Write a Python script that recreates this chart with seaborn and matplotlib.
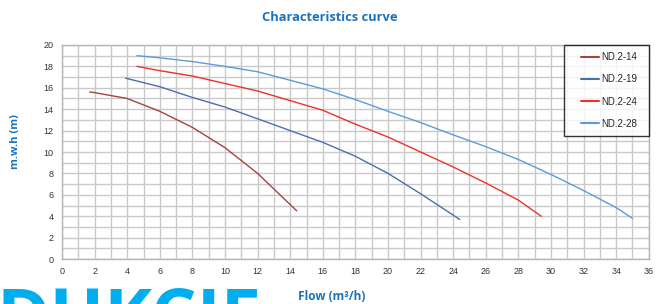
import pandas as pd
import matplotlib
matplotlib.use("Agg")
import matplotlib.pyplot as plt
from matplotlib.legend_handler import HandlerLine2D
from matplotlib.lines import Line2D
import seaborn as sns

# ---------------------------------------------------------
# DATA
# ---------------------------------------------------------

flow_14 = [1.7, 2, 4, 6, 8, 10, 12, 14.4]
head_14 = [15.6, 15.55, 15.0, 13.8, 12.3, 10.4, 8.0, 4.5]

flow_19 = [3.9, 6, 8, 10, 12, 14, 16, 18, 20, 22, 24.4]
head_19 = [16.9, 16.1, 15.1, 14.2, 13.1, 12.0, 10.9, 9.6, 8.0, 6.1, 3.7]

flow_24 = [4.6, 6, 8, 10, 12, 14, 16, 18, 20, 22, 24, 26, 28, 29.4]
head_24 = [18.0, 17.6, 17.1, 16.4, 15.7, 14.8, 13.9, 12.6, 11.4, 10.0, 8.6, 7.1, 5.5, 4.0]

flow_28 = [4.6, 6, 8, 10, 12, 14, 16, 18, 20, 22, 24, 26, 28, 30, 32, 34, 35]
head_28 = [19.0, 18.8, 18.45, 18.0, 17.5, 16.7, 15.9, 14.9, 13.8, 12.75, 11.6, 10.5, 9.3, 7.9, 6.4, 4.8, 3.8]

models = ["ND.2-14", "ND.2-19", "ND.2-24", "ND.2-28"]
colors = ["#a5433f", "#4a70a8", "#f0302a", "#5f9ad8"]

frames = []
for name, f, h in zip(models,
                      [flow_14, flow_19, flow_24, flow_28],
                      [head_14, head_19, head_24, head_28]):
    frames.append(pd.DataFrame({"flow": f, "head": h, "model": name}))
df = pd.concat(frames, ignore_index=True)

# ---------------------------------------------------------
# PLOT
# ---------------------------------------------------------

sns.set_style("white")
plt.rcParams["font.family"] = ["Liberation Sans", "DejaVu Sans"]

fig = plt.figure(figsize=(6.6, 3.04), dpi=100)
ax = fig.add_axes([0.094, 0.148, 0.889, 0.704])

sns.lineplot(
    data=df, x="flow", y="head", hue="model",
    palette=dict(zip(models, colors)),
    sort=False, linewidth=1.0, ax=ax, zorder=3
)

ax.set_xlim(0, 36)
ax.set_ylim(0, 20)
ax.set_xticks(range(0, 37, 2))
ax.set_yticks(range(0, 21, 2))
ax.set_xticks(range(0, 37, 1), minor=True)
ax.set_yticks(range(0, 21, 1), minor=True)
ax.grid(True, which="both", color="#c9c9c9", linewidth=1.0)
ax.tick_params(which="both", length=0, labelsize=6.5, colors="#333333", pad=6)
for s in ax.spines.values():
    s.set_color("#b5b5b5")
    s.set_linewidth(1.0)
ax.set_xlabel("")
ax.set_ylabel("")

# legend: box about 85 px wide, flush with top right corner
leg_w = 85 / 587
leg = ax.legend(
    loc="upper right", fontsize=7, frameon=True, fancybox=False,
    edgecolor="black", labelspacing=1.25, handlelength=2.9,
    handletextpad=0.15, borderpad=0.75, borderaxespad=0,
    bbox_to_anchor=(1.0 - leg_w, 0.0, leg_w, 1.0), mode="expand",
    handler_map={Line2D: HandlerLine2D(xpad=1.05)}
)
leg.get_frame().set_linewidth(1.0)
leg.set_zorder(5)
for line in leg.get_lines():
    line.set_linewidth(1.5)

title_blue = "#1b72b8"
fig.text(0.5, 0.944, "Characteristics curve", ha="center", va="center",
         fontsize=9.3, fontweight="bold", color=title_blue, family="Open Sans")
fig.text(0.024, 0.535, "m.w.h (m)", ha="center", va="center", rotation=90,
         fontsize=8, fontweight="bold", color=title_blue, family="Open Sans")
fig.text(0.503, 0.024, "Flow (m\u00b3/h)", ha="center", va="center",
         fontsize=8.6, fontweight="bold", color=title_blue, family="Open Sans")

# brand watermark cut at bottom edge
fig.text(-0.005, -0.118, "DUKCIE", ha="left", va="baseline",
         fontsize=52, fontweight="bold", color="#00adee", family="Open Sans")

fig.savefig("out.png", dpi=100)
